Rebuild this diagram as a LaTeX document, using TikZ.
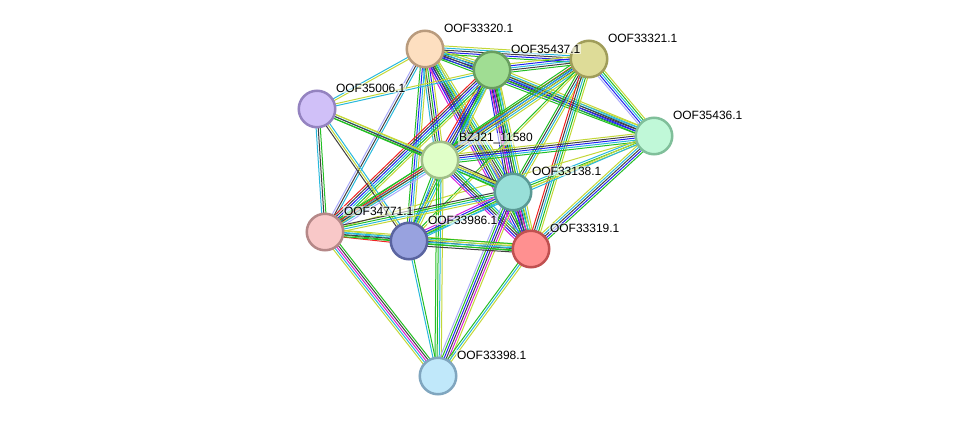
\documentclass[tikz,border=0pt]{standalone}
\usepackage{fontspec}
\setmainfont{Liberation Sans}
\usetikzlibrary{calc,backgrounds}

\definecolor{cDb}{RGB}{40,185,220}
\definecolor{cExp}{RGB}{215,30,215}
\definecolor{cNbh}{RGB}{35,190,35}
\definecolor{cFus}{RGB}{240,35,35}
\definecolor{cCooc}{RGB}{35,35,240}
\definecolor{cTxt}{RGB}{195,215,55}
\definecolor{cCoex}{RGB}{65,65,65}
\definecolor{cHomo}{RGB}{170,170,250}

\tikzset{
  prot/.style = {draw, circle, line width=2.5pt, minimum size=36.5pt, inner sep=0pt},
  lab/.style = {anchor=west, font=\fontsize{12}{14}\selectfont, inner sep=0.8pt,
                fill=white, fill opacity=0.6, text opacity=1},
  link/.style = {line width=1pt},
  db/.style = {draw=cDb}, exp/.style = {draw=cExp}, nbh/.style = {draw=cNbh},
  fus/.style = {draw=cFus}, cooc/.style = {draw=cCooc}, txt/.style = {draw=cTxt},
  coex/.style = {draw=cCoex}, homo/.style = {draw=cHomo}
}

% one bundle of parallel lines per pair of proteins
\newcommand\edge[3]{%
  \foreach \c [count=\k] in {#3} {\xdef\ncol{\k}}%
  \foreach \c [count=\k] in {#3} {%
    \pgfmathsetmacro\off{(\k-(\ncol+1)/2)*2.1}%
    \draw[link,\c] ($(#1.center)!\off pt!90:(#2.center)$) -- ($(#2.center)!\off pt!-90:(#1.center)$);
  }}

\begin{document}
\begin{tikzpicture}[x=1pt, y=-1pt]
\useasboundingbox (0,0) rectangle (975,422);

\node[prot, fill={rgb,255:red,253;green,223;blue,192}, draw={rgb,255:red,185;green,155;blue,125}] (A) at (425,49) {};
\node[prot, fill={rgb,255:red,160;green,221;blue,147}, draw={rgb,255:red,105;green,158;blue,95}] (B) at (492,70) {};
\node[prot, fill={rgb,255:red,222;green,220;blue,152}, draw={rgb,255:red,160;green,157;blue,90}] (C) at (589,59) {};
\node[prot, fill={rgb,255:red,208;green,192;blue,248}, draw={rgb,255:red,148;green,131;blue,192}] (D) at (317,109) {};
\node[prot, fill={rgb,255:red,192;green,248;blue,216}, draw={rgb,255:red,128;green,191;blue,154}] (E) at (654,136) {};
\node[prot, fill={rgb,255:red,224;green,255;blue,200}, draw={rgb,255:red,160;green,191;blue,136}] (F) at (440,160) {};
\node[prot, fill={rgb,255:red,152;green,223;blue,216}, draw={rgb,255:red,90;green,154;blue,149}] (G) at (513,192) {};
\node[prot, fill={rgb,255:red,248;green,200;blue,200}, draw={rgb,255:red,181;green,136;blue,136}] (H) at (325,232) {};
\node[prot, fill={rgb,255:red,152;green,162;blue,223}, draw={rgb,255:red,90;green,100;blue,160}] (I) at (409,241) {};
\node[prot, fill={rgb,255:red,255;green,144;blue,144}, draw={rgb,255:red,192;green,80;blue,80}] (J) at (531,249) {};
\node[prot, fill={rgb,255:red,192;green,232;blue,250}, draw={rgb,255:red,128;green,166;blue,191}] (K) at (438,376) {};

\node[lab] (lA) at ([shift={(18,-21)}]A) {OOF33320.1};
\node[lab] (lB) at ([shift={(18,-21)}]B) {OOF35437.1};
\node[lab] (lC) at ([shift={(18,-21)}]C) {OOF33321.1};
\node[lab] (lD) at ([shift={(18,-21)}]D) {OOF35006.1};
\node[lab] (lE) at ([shift={(18,-21)}]E) {OOF35436.1};
\node[lab] (lF) at ([shift={(18,-21)}]F) {BZJ21\_11580};
\node[lab] (lG) at ([shift={(18,-21)}]G) {OOF33138.1};
\node[lab] (lH) at ([shift={(18,-21)}]H) {OOF34771.1};
\node[lab] (lI) at ([shift={(18,-21)}]I) {OOF33986.1};
\node[lab] (lJ) at ([shift={(18,-21)}]J) {OOF33319.1};
\node[lab] (lK) at ([shift={(18,-21)}]K) {OOF33398.1};

\begin{scope}[on background layer]
\edge{A}{B}{nbh,cooc,coex,db,txt}
\edge{A}{C}{nbh,cooc,coex,db,txt}
\edge{A}{D}{db,txt}
\edge{A}{E}{nbh,cooc,coex,db,txt}
\edge{A}{F}{db,coex,nbh,cooc,txt}
\edge{A}{G}{exp,cooc,coex,nbh,db,txt}
\edge{A}{H}{homo,coex,db}
\edge{A}{I}{nbh,cooc,db,txt}
\edge{A}{J}{exp,cooc,coex,nbh,db,txt}

\edge{B}{C}{nbh,coex,db,cooc,txt}
\edge{B}{E}{nbh,cooc,coex,db,txt}
\edge{B}{D}{txt,db}
\edge{B}{F}{fus,cooc,coex,nbh,db}
\edge{B}{G}{cooc,coex,exp,nbh,db,txt}
\edge{B}{H}{fus,coex,cooc,db,nbh,txt}
\edge{B}{I}{cooc,nbh,db,txt}
\edge{B}{J}{exp,cooc,coex,nbh,db,txt}

\edge{C}{E}{homo,cooc,db,nbh,txt}
\edge{C}{F}{nbh,fus,cooc,coex,db,txt}
\edge{C}{G}{nbh,coex,db,txt}
\edge{C}{J}{fus,coex,db,nbh,txt}
\edge{C}{H}{nbh,db,txt}
\edge{C}{I}{nbh,txt}

\edge{E}{F}{txt,coex,cooc,db,nbh}
\edge{E}{G}{db,nbh,txt}
\edge{E}{J}{txt,db,coex,cooc,nbh}
\edge{E}{I}{txt,db}
\edge{E}{H}{txt}

\edge{D}{F}{nbh,db,txt}
\edge{D}{G}{nbh,coex,txt}
\edge{D}{H}{db,coex,nbh}
\edge{D}{I}{coex,txt,db}

\edge{F}{G}{nbh,db,txt,coex}
\edge{F}{H}{nbh,fus,coex,db,homo}
\edge{F}{I}{nbh,db,txt}
\edge{F}{J}{exp,cooc,coex,nbh,db}
\edge{F}{K}{nbh,nbh,db,txt}

\edge{G}{J}{nbh,cooc,coex,exp,db,txt}
\edge{G}{H}{coex,nbh,db,txt}
\edge{G}{I}{exp,cooc,nbh,db}
\edge{G}{K}{homo,nbh,cooc,coex,exp,txt}

\edge{H}{I}{fus,nbh,db,txt}
\edge{H}{J}{nbh,coex,db,txt}
\edge{H}{K}{txt,db,exp,coex,nbh}

\edge{I}{J}{coex,nbh,db,txt,nbh}
\edge{I}{K}{db,nbh}
\edge{J}{K}{nbh,db,txt}
\end{scope}
\end{tikzpicture}
\end{document}
